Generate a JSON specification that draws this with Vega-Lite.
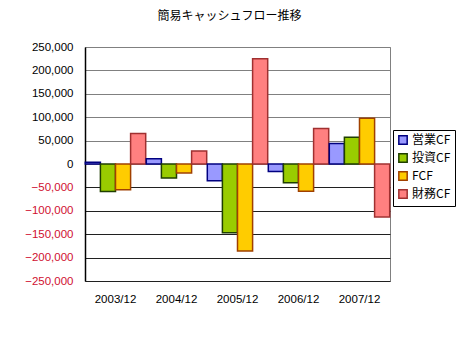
{
  "$schema": "https://vega.github.io/schema/vega-lite/v6.json",
  "width": 305,
  "height": 234,
  "autosize": "none",
  "padding": {"left": 85, "top": 47, "right": 67, "bottom": 60},
  "background": "white",
  "title": {"text": "簡易キャッシュフロー推移", "font": "Noto Sans CJK JP", "fontSize": 12, "fontWeight": "normal", "color": "black", "anchor": "middle", "dx": -8, "offset": 18},
  "data": {"values": [
    {"year": "2003/12", "type": "営業CF", "value": 4000},
    {"year": "2003/12", "type": "投資CF", "value": -59000},
    {"year": "2003/12", "type": "FCF", "value": -55000},
    {"year": "2003/12", "type": "財務CF", "value": 65000},
    {"year": "2004/12", "type": "営業CF", "value": 11000},
    {"year": "2004/12", "type": "投資CF", "value": -30000},
    {"year": "2004/12", "type": "FCF", "value": -19000},
    {"year": "2004/12", "type": "財務CF", "value": 28000},
    {"year": "2005/12", "type": "営業CF", "value": -36000},
    {"year": "2005/12", "type": "投資CF", "value": -147000},
    {"year": "2005/12", "type": "FCF", "value": -186000},
    {"year": "2005/12", "type": "財務CF", "value": 225000},
    {"year": "2006/12", "type": "営業CF", "value": -16000},
    {"year": "2006/12", "type": "投資CF", "value": -40000},
    {"year": "2006/12", "type": "FCF", "value": -58000},
    {"year": "2006/12", "type": "財務CF", "value": 76000},
    {"year": "2007/12", "type": "営業CF", "value": 44000},
    {"year": "2007/12", "type": "投資CF", "value": 57000},
    {"year": "2007/12", "type": "FCF", "value": 98000},
    {"year": "2007/12", "type": "財務CF", "value": -113000}
  ]},
  "mark": {"type": "bar", "strokeWidth": 1.5, "strokeOpacity": 1},
  "encoding": {
    "x": {"field": "year", "type": "nominal", "title": null,
      "scale": {"paddingInner": 0, "paddingOuter": 0},
      "axis": {"labelAngle": 0, "domain": false, "ticks": false, "labelPadding": 12, "labelFont": "Liberation Sans", "labelFontSize": 11.5, "labelColor": "black"}},
    "xOffset": {"field": "type", "type": "nominal", "sort": ["営業CF", "投資CF", "FCF", "財務CF"], "scale": {"paddingInner": 0, "paddingOuter": 0.02}},
    "y": {"field": "value", "type": "quantitative", "title": null,
      "scale": {"domain": [-250000, 250000], "nice": false},
      "axis": {"values": [-250000, -200000, -150000, -100000, -50000, 0, 50000, 100000, 150000, 200000, 250000],
        "format": ",.0f", "ticks": false, "labelPadding": 12, "domainColor": "black", "domainWidth": 1.5,
        "labelFont": "Liberation Sans", "labelFontSize": 11.5,
        "labelColor": {"condition": {"test": "datum.value < 0", "value": "#d01030"}, "value": "black"},
        "grid": true,
        "gridColor": {"condition": {"test": "datum.value < 0", "value": "#202020"}, "value": "#808080"},
        "gridWidth": 1, "gridOpacity": 1}},
    "fill": {"field": "type", "type": "nominal", "title": null,
      "scale": {"domain": ["営業CF", "投資CF", "FCF", "財務CF"], "range": ["#9999ff", "#99cc00", "#ffcc00", "#ff8080"]},
      "legend": {"orient": "none", "legendX": 308, "legendY": 83, "symbolType": "square", "symbolSize": 70, "symbolStrokeWidth": 1.5,
        "labelFont": "Noto Sans CJK JP", "labelFontSize": 12, "labelColor": "black", "rowPadding": 2, "padding": 4,
        "strokeColor": "black", "fillColor": "white", "labelOffset": 3}},
    "stroke": {"field": "type", "type": "nominal", "title": null,
      "scale": {"domain": ["営業CF", "投資CF", "FCF", "財務CF"], "range": ["#000080", "#1f3f00", "#a04000", "#a03030"]}}
  },
  "config": {
    "view": {"stroke": "#808080", "strokeWidth": 1}
  }
}
